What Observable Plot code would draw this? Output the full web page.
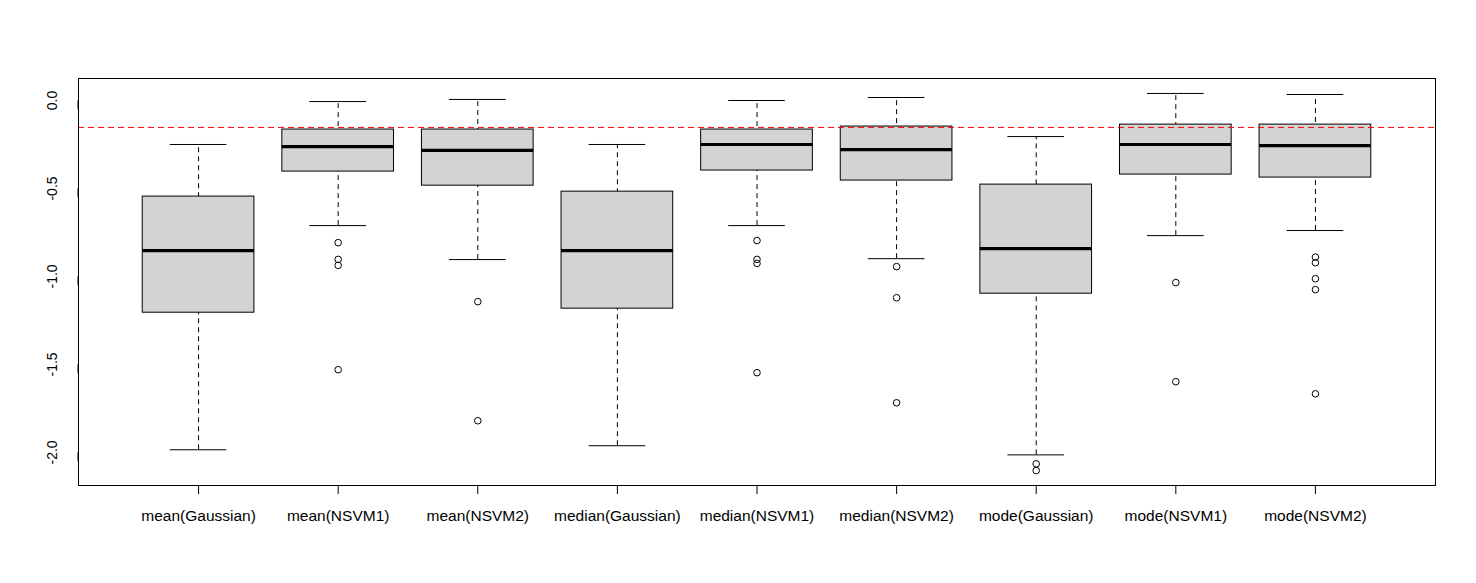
<!DOCTYPE html>
<html>
<head>
<meta charset="utf-8">
<script src="https://cdn.jsdelivr.net/npm/d3@7"></script>
<script src="https://cdn.jsdelivr.net/npm/@observablehq/plot@0.6"></script>
<style>
  html, body { margin: 0; padding: 0; background: #fff; }
  #chart svg { display: block; }
</style>
</head>
<body>
<div id="chart"></div>
<script>
const categories = ["mean(Gaussian)", "mean(NSVM1)", "mean(NSVM2)", "median(Gaussian)", "median(NSVM1)", "median(NSVM2)", "mode(Gaussian)", "mode(NSVM1)", "mode(NSVM2)"];
const lowerWhisker = [-1.985, -0.711, -0.904, -1.962, -0.711, -0.899, -2.014, -0.768, -0.739];
const q1 = [-1.206, -0.404, -0.484, -1.183, -0.398, -0.455, -1.098, -0.421, -0.438];
const median = [-0.853, -0.262, -0.284, -0.853, -0.250, -0.279, -0.842, -0.250, -0.256];
const q3 = [-0.546, -0.165, -0.165, -0.518, -0.165, -0.148, -0.478, -0.137, -0.137];
const upperWhisker = [-0.250, -0.006, 0.006, -0.250, 0.000, 0.017, -0.205, 0.040, 0.034];
const outliers = [
  [],
  [-0.808, -0.903, -0.937, -1.530],
  [-1.143, -1.820],
  [],
  [-0.796, -0.903, -0.926, -1.547],
  [-0.944, -1.121, -1.718],
  [-2.065, -2.103],
  [-1.035, -1.598],
  [-0.890, -0.922, -1.013, -1.075, -1.667]
];
const refLine = -0.153;
const yTicks = [0, -0.5, -1, -1.5, -2];
const yTickLabels = ["0.0", "-0.5", "-1.0", "-1.5", "-2.0"];

const boxes = categories.map((c, i) => ({
  cat: c, lo: lowerWhisker[i], q1: q1[i], med: median[i], q3: q3[i], hi: upperWhisker[i]
}));
const outlierPoints = categories.flatMap((c, i) => outliers[i].map(v => ({cat: c, v})));

const chart = Plot.plot({
  width: 1476,
  height: 583,
  marginLeft: 78,
  marginRight: 41,
  marginTop: 78,
  marginBottom: 98,
  style: {fontFamily: "'Liberation Sans', Arial, sans-serif", background: "#fff", color: "#000"},
  x: {type: "band", domain: categories, paddingInner: 0.2, paddingOuter: 0.46, align: 0.5, round: false},
  y: {domain: [-2.188, 0.125]},
  marks: [
    Plot.ruleX(boxes, {x: "cat", y1: "lo", y2: "hi", stroke: "black", strokeWidth: 1, strokeDasharray: "5,4"}),
    Plot.tickY(boxes, {x: "cat", y: "lo", stroke: "black", strokeWidth: 1, insetLeft: 27.5, insetRight: 27.5}),
    Plot.tickY(boxes, {x: "cat", y: "hi", stroke: "black", strokeWidth: 1, insetLeft: 27.5, insetRight: 27.5}),
    Plot.barY(boxes, {x: "cat", y1: "q1", y2: "q3", fill: "#d3d3d3", stroke: "black", strokeWidth: 1}),
    Plot.tickY(boxes, {x: "cat", y: "med", stroke: "black", strokeWidth: 3.2}),
    Plot.dot(outlierPoints, {x: "cat", y: "v", r: 3.3, stroke: "black", fill: "none", strokeWidth: 1}),
    Plot.ruleY([refLine], {stroke: "red", strokeWidth: 1, strokeDasharray: "6,4"}),
    Plot.frame({stroke: "black", strokeWidth: 1}),
    Plot.axisX({tickSize: 9, tickPadding: 15, fontSize: 15.5, label: null}),
    Plot.axisY({ticks: yTicks, tickSize: 9, tickPadding: 17, fontSize: 14, rotate: -90, textAnchor: "middle", lineAnchor: "middle",
      tickFormat: d => yTickLabels[yTicks.indexOf(d)], label: null})
  ]
});
document.getElementById("chart").appendChild(chart);
</script>
</body>
</html>
